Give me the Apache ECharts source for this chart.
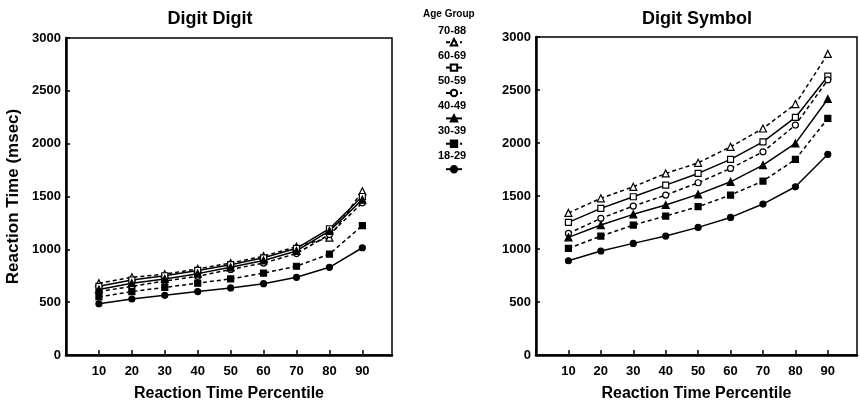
<!DOCTYPE html>
<html>
<head>
<meta charset="utf-8">
<title>Digit Digit / Digit Symbol</title>
<script src="https://cdn.jsdelivr.net/npm/echarts@6/dist/echarts.min.js"></script>
<style>
  html, body { margin: 0; padding: 0; background: #fff; }
  #main { width: 859px; height: 407px; }
</style>
</head>
<body>
<div id="main"></div>
<script>
// x categories (percentiles) and y ticks
var percentiles = [10, 20, 30, 40, 50, 60, 70, 80, 90];
var yTicks = [0, 500, 1000, 1500, 2000, 2500, 3000];
var ageGroups = ['70-88', '60-69', '50-59', '40-49', '30-39', '18-29'];

// Digit Digit (left panel), msec
var dd_70_88 = [680, 735, 765, 815, 870, 935, 1025, 1110, 1550];
var dd_60_69 = [650, 710, 750, 800, 855, 920, 1010, 1195, 1500];
var dd_50_59 = [600, 650, 700, 745, 810, 870, 960, 1140, 1440];
var dd_40_49 = [620, 680, 720, 770, 830, 895, 985, 1175, 1470];
var dd_30_39 = [550, 600, 640, 680, 720, 775, 840, 955, 1225];
var dd_18_29 = [485, 530, 565, 600, 635, 675, 735, 830, 1015];

// Digit Symbol (right panel), msec
var ds_70_88 = [1340, 1478, 1587, 1713, 1813, 1964, 2137, 2367, 2840];
var ds_60_69 = [1251, 1383, 1493, 1603, 1713, 1845, 2011, 2241, 2630];
var ds_50_59 = [1147, 1289, 1405, 1509, 1625, 1760, 1917, 2169, 2595];
var ds_40_49 = [1110, 1226, 1327, 1415, 1515, 1634, 1792, 1996, 2415];
var ds_30_39 = [1005, 1122, 1226, 1311, 1399, 1509, 1641, 1845, 2232];
var ds_18_29 = [889, 981, 1053, 1122, 1204, 1298, 1424, 1587, 1893];

var ddData = [dd_70_88, dd_60_69, dd_50_59, dd_40_49, dd_30_39, dd_18_29];
var dsData = [ds_70_88, ds_60_69, ds_50_59, ds_40_49, ds_30_39, ds_18_29];

// marker / line style per age group
var lineTypes = ['dashed', 'solid', 'dashed', 'solid', 'dashed', 'solid'];
var symbols = ['triangle', 'rect', 'circle', 'triangle', 'rect', 'circle'];
var filled = [false, false, false, true, true, true];

var FONT = '"Liberation Sans", Arial, Helvetica, sans-serif';

var chart = echarts.init(document.getElementById('main'));

function pairs(vals) {
    return percentiles.map(function (p, i) { return [p, vals[i]]; });
}

function makeSeries(dataList, idx) {
    return dataList.map(function (vals, k) {
        return {
            name: ageGroups[k],
            type: 'line',
            xAxisIndex: idx,
            yAxisIndex: idx,
            data: pairs(vals),
            symbol: symbols[k],
            symbolSize: symbols[k] === 'triangle' ? 7 : 6,
            showAllSymbol: true,
            animation: false,
            lineStyle: { color: '#000', width: 1.5, type: lineTypes[k] === 'dashed' ? [4, 3] : 'solid' },
            itemStyle: { color: filled[k] ? '#000' : '#fff', borderColor: '#000', borderWidth: 1.2 },
            emphasis: { disabled: true }
        };
    });
}

function xAxis(idx) {
    return {
        type: 'value',
        gridIndex: idx,
        min: 0,
        max: 99,
        interval: 10,
        name: 'Reaction Time Percentile',
        nameLocation: 'middle',
        nameGap: 31,
        nameTextStyle: { color: '#000', fontSize: 16, fontWeight: 'bold', fontFamily: FONT },
        axisLine: { lineStyle: { color: '#000', width: 2.5 } },
        axisTick: { inside: true, length: 5, lineStyle: { color: '#000', width: 1.5 } },
        axisLabel: {
            color: '#000', fontSize: 13, fontWeight: 'bold', fontFamily: FONT, margin: 10,
            showMaxLabel: false,
            formatter: function (v) { return percentiles.indexOf(v) >= 0 ? String(v) : ''; }
        },
        splitLine: { show: false }
    };
}

function yAxis(idx, withName) {
    return {
        type: 'value',
        gridIndex: idx,
        min: yTicks[0],
        max: yTicks[yTicks.length - 1],
        interval: 500,
        name: withName ? 'Reaction Time (msec)' : '',
        nameLocation: 'middle',
        nameGap: 44,
        nameTextStyle: { color: '#000', fontSize: 17, fontWeight: 'bold', fontFamily: FONT },
        axisLine: { lineStyle: { color: '#000', width: 2.5 } },
        axisTick: { inside: true, length: 4, lineStyle: { color: '#000', width: 1.5 } },
        axisLabel: {
            color: '#000', fontSize: 13, fontWeight: 'bold', fontFamily: FONT, margin: 5,
            formatter: function (v) { return String(v); }
        },
        splitLine: { show: false }
    };
}

// legend label texts placed above each legend icon
var legendTexts = ageGroups.map(function (g, i) {
    return {
        type: 'text',
        left: 438,
        top: 25 + i * 25,
        style: { text: g, fill: '#000', font: 'bold 11px ' + FONT }
    };
});
legendTexts.push({
    type: 'text',
    left: 423,
    top: 9,
    style: { text: 'Age Group', fill: '#000', font: 'bold 10px ' + FONT }
});

var option = {
    backgroundColor: '#fff',
    animation: false,
    title: [
        { text: 'Digit Digit', left: 205, top: 5, textAlign: 'center',
          textStyle: { color: '#000', fontSize: 18, fontWeight: 'bold', fontFamily: FONT } },
        { text: 'Digit Symbol', left: 692, top: 5, textAlign: 'center',
          textStyle: { color: '#000', fontSize: 18, fontWeight: 'bold', fontFamily: FONT } }
    ],
    legend: {
        data: ageGroups,
        orient: 'vertical',
        left: 440,
        top: 33,
        itemWidth: 16,
        itemHeight: 8,
        itemGap: 17,
        selectedMode: false,
        formatter: function () { return ''; },
        textStyle: { fontSize: 8 }
    },
    grid: [
        { left: 66, right: 467, top: 38, bottom: 50, show: true, borderColor: '#000', borderWidth: 1.5 },
        { left: 536, right: 2, top: 37, bottom: 52, show: true, borderColor: '#000', borderWidth: 1.5 }
    ],
    xAxis: [xAxis(0), xAxis(1)],
    yAxis: [yAxis(0, true), yAxis(1, false)],
    graphic: legendTexts,
    series: makeSeries(ddData, 0).concat(makeSeries(dsData, 1))
};

chart.setOption(option);
</script>
</body>
</html>
